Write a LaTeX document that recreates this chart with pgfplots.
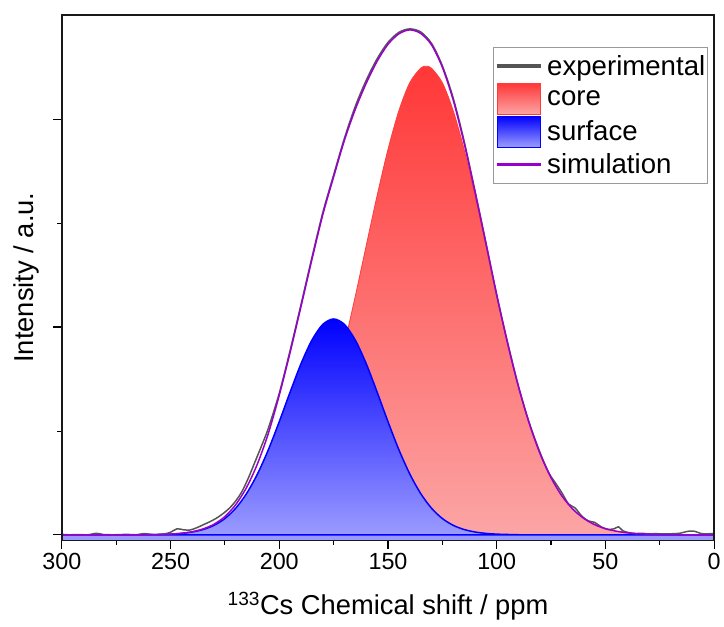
\documentclass[border=0pt]{standalone}
\usepackage{fontspec}
\setmainfont{Liberation Sans}
\usepackage{pgfplots}
\pgfplotsset{compat=1.18}
\definecolor{expgray}{RGB}{85,85,85}
\definecolor{simpurple}{RGB}{153,0,204}
\definecolor{coretop}{RGB}{255,55,55}
\definecolor{corebot}{RGB}{252,165,165}
\definecolor{coreedge}{RGB}{255,60,60}
\definecolor{surftop}{RGB}{0,0,255}
\definecolor{surfbot}{RGB}{155,155,255}
\begin{document}
\begin{tikzpicture}
\begin{axis}[
  scale only axis, width=654.5bp, height=527bp,
  x dir=reverse, xmin=0, xmax=300, ymin=-0.055, ymax=5.215,
  xtick={0,50,...,300}, minor xtick={25,75,...,275},
  ytick={0,2.085,4.17}, minor ytick={1.04,3.125}, yticklabels={},
  xtick pos=bottom, ytick pos=left, tick align=outside,
  major tick length=9bp, minor tick length=5bp,
  axis line style={line width=1.5bp, black!90},
  every tick/.style={line width=1.2bp, black},
  /pgf/number format/assume math mode=true,
  xticklabel style={font=\fontsize{23.5}{26}\selectfont},
  xlabel={\textsuperscript{133}Cs Chemical shift / ppm},
  ylabel={Intensity / a.u.},
  label style={font=\fontsize{27.5}{30}\selectfont},
  xlabel style={at={(axis description cs:0.5,-0.125)}, anchor=center},
  ylabel style={at={(axis description cs:-0.0535,0.5)}, anchor=center},
  axis on top,
  legend style={at={(0.99,0.939)}, anchor=north east, draw=gray!80, line width=0.8bp,
    fill=white, font=\fontsize{27.8}{30}\selectfont, row sep=0bp, column sep=4bp,
    inner xsep=2bp, inner ysep=2bp, nodes={inner sep=0bp}},
  legend cell align=left,
]
\addlegendimage{legend image code/.code={\path[draw=none,fill=none] (0bp,-16.5bp) rectangle (45bp,16.5bp); \draw[expgray, line width=3.5bp] (0bp,0bp) -- (45bp,0bp);}}
\addlegendentry{experimental}
\addlegendimage{legend image code/.code={\path[draw=none,fill=none] (0bp,-16.5bp) rectangle (45bp,16.5bp); \draw[coreedge, line width=1bp, top color=coretop, bottom color=corebot] (0.5bp,-15.5bp) rectangle (44.5bp,15.5bp);}}
\addlegendentry{core}
\addlegendimage{legend image code/.code={\path[draw=none,fill=none] (0bp,-16.5bp) rectangle (45bp,16.5bp); \draw[surftop, line width=1bp, top color=surftop, bottom color=surfbot] (0.5bp,-15.5bp) rectangle (44.5bp,15.5bp);}}
\addlegendentry{surface}
\addlegendimage{legend image code/.code={\path[draw=none,fill=none] (0bp,-16.5bp) rectangle (45bp,16.5bp); \draw[simpurple, line width=3.5bp] (0bp,0bp) -- (45bp,0bp);}}
\addlegendentry{simulation}

% core
\addplot[forget plot, smooth, draw=coreedge, line width=0.8bp, top color=coretop, bottom color=corebot]
 coordinates {(300,0)(250,0)(245,0.001)(240,0.003)(235,0.006)(230,0.011)(225,0.020)(220,0.036)(215,0.061)(210,0.102)(205,0.165)(200,0.257)(195,0.389)(190,0.571)(185,0.810)(180,1.115)(175,1.485)(170,1.917)(165,2.397)(160,2.902)(155,3.403)(150,3.866)(145,4.254)(140,4.535)(135,4.681)(132.5,4.70)(130,4.681)(125,4.535)(120,4.254)(115,3.866)(110,3.403)(105,2.902)(100,2.397)(95,1.917)(90,1.485)(85,1.115)(80,0.810)(75,0.571)(70,0.389)(65,0.257)(60,0.165)(55,0.102)(50,0.061)(45,0.036)(40,0.020)(35,0.011)(30,0.006)(25,0.003)(20,0.001)(15,0)(0,0)} \closedcycle;
% strip under baseline
\addplot[forget plot, fill=surfbot, draw=none] coordinates {(300,-0.3)(300,0)(0,0)(0,-0.3)} -- cycle;
% surface
\addplot[forget plot, smooth, draw=surftop, line width=1.5bp, top color=surftop, bottom color=surfbot]
 coordinates {(300,0)(265,0)(260,0.001)(255,0.003)(250,0.0065)(245,0.014)(240,0.028)(235,0.053)(230,0.095)(225,0.163)(220,0.267)(215,0.415)(210,0.611)(205,0.854)(200,1.135)(195,1.432)(190,1.716)(185,1.952)(180,2.110)(175,2.165)(170,2.110)(165,1.952)(160,1.716)(155,1.432)(150,1.135)(145,0.854)(140,0.611)(135,0.415)(130,0.267)(125,0.163)(120,0.095)(115,0.053)(110,0.028)(105,0.014)(100,0.0065)(95,0.003)(90,0.001)(85,0)(0,0)} \closedcycle;
% experimental
\addplot[forget plot, smooth, expgray, line width=1.5bp]
 coordinates {(300,0.005)(297,0)(292,0.002)(288,0.0)(284,0.015)(281,0.003)(276,0.0)(270,0.004)(266,0.0)(262,0.012)(258,0.002)(253,0.008)(250,0.025)(247,0.06)(244,0.05)(241,0.048)(238,0.07)(235,0.1)(232,0.13)(229,0.165)(226,0.21)(223,0.265)(220,0.34)(217,0.44)(214,0.58)(211,0.74)(208,0.90)(205,1.07)(200,1.42)(195,1.85)(190,2.31)(185,2.78)(180,3.23)(175,3.61)(170,3.98)(165,4.30)(160,4.56)(155,4.775)(150,4.94)(145,5.04)(140,5.075)(135,5.045)(130,4.93)(125,4.705)(120,4.38)(115,3.95)(110,3.45)(105,2.93)(100,2.40)(95,1.93)(90,1.49)(85,1.12)(80,0.82)(76,0.62)(73,0.52)(70,0.42)(67,0.31)(64,0.27)(61,0.19)(58,0.14)(55,0.125)(52,0.08)(49,0.055)(46,0.06)(44,0.08)(42,0.04)(39,0.02)(36,0.012)(33,0.015)(30,0.008)(27,0.012)(24,0.008)(20,0.01)(16,0.015)(12,0.035)(9,0.035)(6,0.012)(3,0.01)(0,0.012)};
% simulation
\addplot[forget plot, smooth, simpurple, line width=1.5bp]
 coordinates {(300,0)(265,0)(260,0.001)(255,0.003)(250,0.007)(245,0.015)(240,0.031)(235,0.059)(230,0.106)(225,0.183)(220,0.303)(215,0.476)(210,0.713)(205,1.019)(200,1.40)(195,1.83)(190,2.29)(185,2.76)(180,3.21)(175,3.59)(170,3.96)(165,4.27)(160,4.53)(155,4.75)(150,4.92)(145,5.025)(140,5.065)(135,5.03)(130,4.915)(125,4.69)(120,4.36)(115,3.93)(110,3.44)(105,2.93)(100,2.41)(95,1.92)(90,1.486)(85,1.115)(80,0.810)(75,0.571)(70,0.389)(65,0.257)(60,0.165)(55,0.102)(50,0.061)(45,0.036)(40,0.020)(35,0.011)(30,0.006)(25,0.003)(20,0.001)(15,0)(0,0)};
\coordinate (ll) at (rel axis cs:0,0);
\coordinate (ur) at (rel axis cs:1,1);
\end{axis}
\path ([shift={(-62bp,-87bp)}]ll) rectangle ([shift={(7.5bp,15bp)}]ur);
\end{tikzpicture}
\end{document}
